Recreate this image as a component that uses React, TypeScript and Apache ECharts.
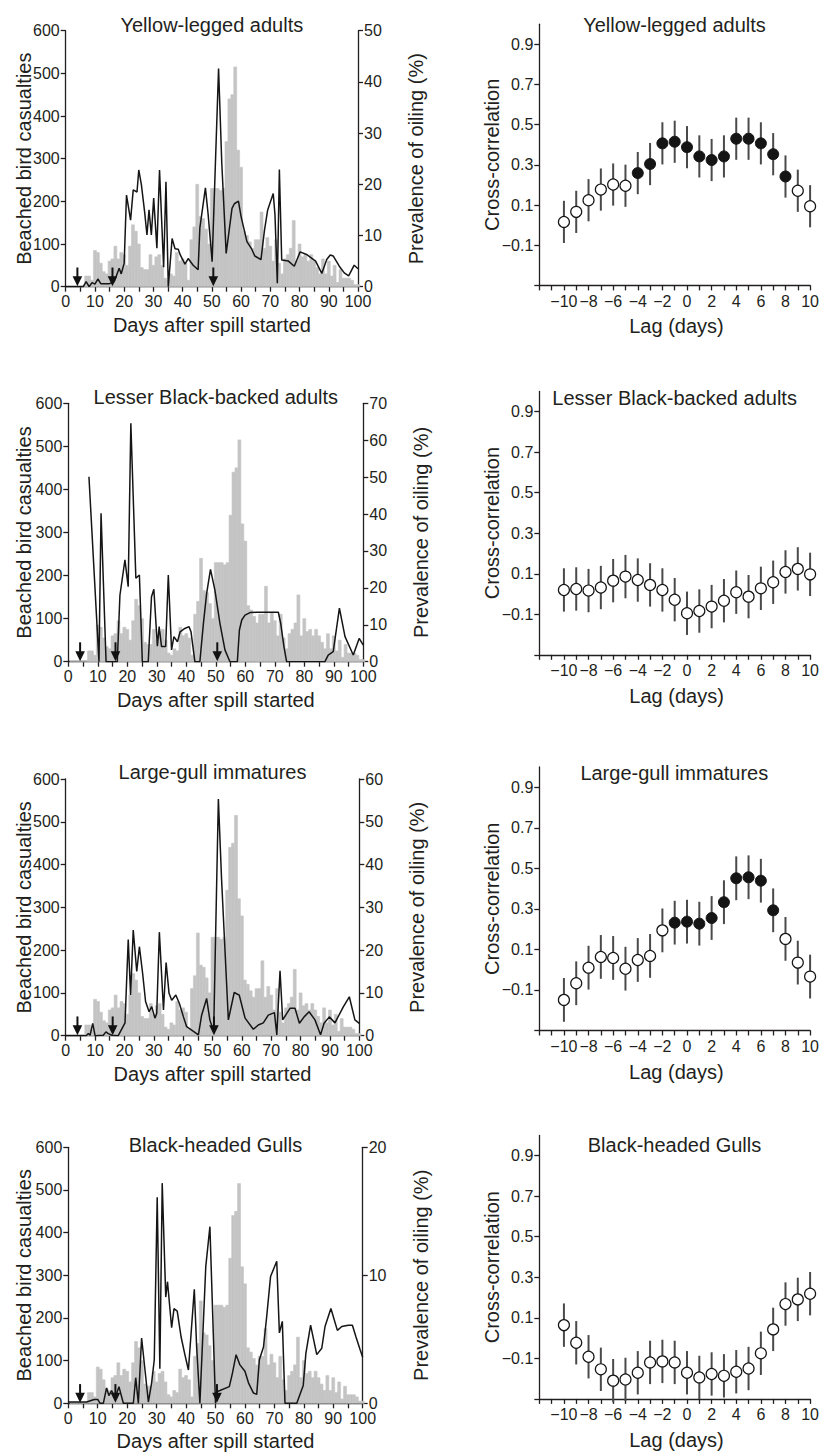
import React, { useEffect, useRef } from 'react';
import * as echarts from 'echarts';

// ---------------- DATA ----------------
const panelTitles = ['Yellow-legged adults', 'Lesser Black-backed adults', 'Large-gull immatures', 'Black-headed Gulls'];

// day numbers (categories) for the daily casualty bars
const days = Array.from({ length: 100 }, (_, i) => i + 1);

// total beached bird casualties per day (same grey bars in every left panel)
const beachedTotals = [
  0, 0, 0, 0, 0, 0, 25, 25, 15, 85,
  80, 55, 35, 30, 60, 65, 95, 65, 80, 75,
  50, 95, 145, 130, 100, 45, 40, 40, 75, 50,
  70, 75, 50, 20, 15, 30, 25, 80, 60, 65,
  55, 15, 110, 140, 240, 165, 160, 135, 100, 230,
  230, 230, 225, 230, 340, 440, 450, 515, 320, 280,
  130, 120, 105, 90, 110, 110, 175, 90, 115, 95,
  60, 110, 55, 30, 65, 75, 90, 155, 60, 100,
  70, 75, 60, 75, 60, 45, 30, 65, 30, 60,
  25, 50, 10, 40, 20, 20, 20, 15, 5, 5,
];

// prevalence of oiling (%) [day, %]
const yellowLeggedOiling = [[0,0],[6,0],[7,1],[8,0],[9,0.8],[10,0.5],[11,1.5],[12,0.6],[15,0.6],[16.6,1],[18.3,3.6],[19,2.5],[20,4.6],[20.8,17.9],[22.2,13],[23.1,18.9],[24.4,18.5],[25,22.8],[25.9,19.9],[27,14.6],[27.8,10.1],[28.5,15],[29.3,10.1],[30.1,17.3],[31.2,7.5],[32.1,22.8],[33.5,3.8],[34.3,20.5],[35.1,0],[36.4,9.4],[37.4,7.4],[38.5,7.3],[39.2,6.2],[40.8,4.4],[41.9,5.5],[43.6,4.2],[45.3,3.3],[45.9,11.5],[47.8,19.3],[48.7,14.3],[50.1,4.9],[52.3,42.6],[53.4,24.1],[54.9,6.5],[56.9,15.3],[57.7,16.2],[59.1,16.7],[60,13.7],[62,8.8],[63.5,7.5],[64.7,6],[66.8,5.3],[68,11],[69.1,15],[71,18.2],[71.6,14],[72.4,0.7],[73.1,22.9],[73.9,5.2],[76.2,5],[78.2,4],[80.2,6.8],[82.4,6.3],[84.1,5.6],[85.5,5],[87.6,2.6],[89.3,5.3],[90.5,6.2],[91.5,6],[93.6,4],[95.3,2.7],[96.8,2.1],[98.7,4.2],[100,3.5]];

const lesserBlackBackedOiling = [[7,50.1],[10.4,0],[11.1,40.2],[12.8,0],[16.6,0],[17.5,18],[19.2,27.6],[20.3,20.3],[21.2,64.6],[22.9,22.6],[24.1,23.5],[25.1,0],[27.1,0],[28.2,17.6],[29,19.6],[30.2,4.2],[30.8,9.5],[31.6,4.1],[33,4.1],[33.9,23.5],[35,3.2],[35.8,6.8],[37,5.4],[37.9,8.1],[39.5,9],[40.9,9.5],[41.6,8.1],[42.9,0],[44.6,0],[45.8,10.4],[46.9,18.5],[48.2,25],[49.7,19.4],[51.4,10.4],[53.1,3.2],[54.8,0],[57.3,0],[58,8.6],[58.8,11.3],[59.9,12.6],[61.6,13.3],[63.8,13.4],[71.2,13.4],[72,10.4],[73.1,4.1],[74,0],[87,0],[88.1,1.8],[89.8,2.7],[91.9,14.5],[93.8,6.8],[96.6,1.8],[98.6,6.3],[100,4.5]];

const largeGullOiling = [[0,0],[7,0],[7.7,0.5],[8.3,0.1],[9.2,2.9],[10,0],[12.8,0.1],[13.7,0.9],[14.5,0.5],[15.7,0.1],[17.9,0],[20.2,3],[21.3,22.5],[22.1,9.5],[23,24.7],[24.2,15],[25.1,20.8],[26.2,14.6],[27.2,8],[28.4,5.6],[29.3,6.8],[30.4,4.1],[31,5.2],[31.9,24.2],[33.3,6],[34.2,17.1],[35.2,9.9],[36.1,8.3],[37.5,9.5],[38.7,7.6],[40.1,4.4],[41.2,2.1],[42.9,1.3],[45.2,0.2],[46.3,4.8],[48,8.7],[49.1,3.7],[50.4,1],[52,55.3],[53.1,36.4],[55.4,3.7],[57.4,10.1],[59.1,9.5],[61.1,4.1],[63.9,1.5],[65.6,2.5],[67.3,3],[69,4.8],[71.1,5.4],[71.9,0.2],[73,15.2],[73.9,3.7],[75.3,5.2],[76.4,6.4],[78.1,6.4],[79.6,2.9],[81.2,4.4],[82.9,5.6],[84.9,3.7],[86.8,0.2],[88,2.9],[89.8,4.4],[91.7,3],[94.6,6.8],[96.6,9.1],[98.5,3.7],[100,2.9]];

const blackHeadedOiling = [[0,0.1],[6.2,0.1],[8.8,0.3],[10,0.3],[10.8,0],[11.9,0],[13,1.2],[13.8,0.6],[14.7,1],[15.9,0.4],[17.2,1.3],[18.7,0],[22.1,0],[22.9,2],[23.8,0],[24.9,5.1],[27.2,0.1],[28.3,1.6],[29.2,3.4],[30.2,16.1],[31.1,2.7],[31.9,17.2],[33.1,8.3],[33.7,9.5],[35.1,5.9],[35.9,7.4],[37,7.2],[38.3,5.2],[39.6,3.8],[40.8,2.6],[42.8,8.9],[43.6,4.4],[44.7,0],[46.7,10.7],[48.1,13.8],[50,0],[50.4,0.9],[51.5,1],[54.7,1.3],[55.7,2.3],[57,3.8],[58.3,3],[60,2.5],[61.2,1.6],[62.9,0.8],[64,0.7],[64.9,3.4],[66.3,4.4],[67.4,6.8],[68.7,9.9],[70.8,11.1],[71.7,5.5],[72.7,6.4],[73.6,0],[77.6,0],[79.8,1.4],[80.7,3.9],[82.3,6.1],[84.4,3.8],[86.1,4.3],[87.2,6],[89.2,7.4],[91.4,5.7],[92.9,6],[95.1,6.1],[96.5,6.1],[97.7,5.2],[99.1,4.2],[100,3.6]];

const oilingMax = [50, 70, 60, 20];

// arrows marking events (day) and arrow top (casualty units)
const arrowDays = [4, 16, 50.5];
const arrowTop = 45;

// cross-correlation panels
const lags = [-10, -9, -8, -7, -6, -5, -4, -3, -2, -1, 0, 1, 2, 3, 4, 5, 6, 7, 8, 9, 10];
const ccYellow = [0.016, 0.066, 0.124, 0.177, 0.202, 0.196, 0.259, 0.304, 0.407, 0.415, 0.388, 0.342, 0.324, 0.342, 0.430, 0.430, 0.407, 0.353, 0.242, 0.171, 0.094];
const sigYellow = [0, 0, 0, 0, 0, 0, 1, 1, 1, 1, 1, 1, 1, 1, 1, 1, 1, 1, 1, 0, 0];
const ccLesser = [0.020, 0.025, 0.017, 0.032, 0.066, 0.086, 0.069, 0.045, 0.020, -0.028, -0.095, -0.084, -0.062, -0.033, 0.009, -0.013, 0.028, 0.058, 0.109, 0.124, 0.097];
const sigLesser = [0, 0, 0, 0, 0, 0, 0, 0, 0, 0, 0, 0, 0, 0, 0, 0, 0, 0, 0, 0, 0];
const ccLarge = [-0.149, -0.067, 0.010, 0.063, 0.058, 0.005, 0.048, 0.068, 0.194, 0.232, 0.237, 0.227, 0.255, 0.333, 0.451, 0.456, 0.439, 0.293, 0.152, 0.035, -0.034];
const sigLarge = [0, 0, 0, 0, 0, 0, 0, 0, 0, 1, 1, 1, 1, 1, 1, 1, 1, 1, 0, 0, 0];
const ccBlack = [0.064, -0.023, -0.092, -0.154, -0.210, -0.204, -0.171, -0.120, -0.115, -0.120, -0.171, -0.194, -0.177, -0.186, -0.166, -0.150, -0.075, 0.043, 0.168, 0.191, 0.219];
const sigBlack = [0, 0, 0, 0, 0, 0, 0, 0, 0, 0, 0, 0, 0, 0, 0, 0, 0, 0, 0, 0, 0];
const ccErrHalf = [0.105, 0.107, 0.108, 0.107];

const ccYLabels = [-0.1, 0.1, 0.3, 0.5, 0.7, 0.9];

// ---------------- LAYOUT ----------------
const leftLayout = [
  { left: 65.7, top: 30.7, width: 292.3, height: 256 },
  { left: 68.3, top: 403.3, width: 295, height: 258.4 },
  { left: 65.7, top: 779, width: 293.6, height: 256.7 },
  { left: 68.3, top: 1147.3, width: 294.4, height: 256 },
];
const rightLayout = [
  { left: 539.3, top: 24.2, width: 272.4, height: 261.2 },
  { left: 539.3, top: 391.4, width: 272.6, height: 263.4 },
  { left: 539.3, top: 767, width: 272, height: 263.5 },
  { left: 539.3, top: 1135.4, width: 272.4, height: 263.5 },
];
const leftTitleY = [25, 396.7, 771.7, 1145];
const rightTitleY = [25, 398.3, 773.3, 1145];

const FONT = '"Liberation Sans", Arial, Helvetica, sans-serif';
const INK = '#231f20';
const BAR_GREY = '#c4c4c4';
const TICK_FS = 16;
const NAME_FS = 20;

const minus = (s: string) => s.replace('-', '\u2212');

function buildOption() {
  const oilingSets = [yellowLeggedOiling, lesserBlackBackedOiling, largeGullOiling, blackHeadedOiling];
  const ccSets = [ccYellow, ccLesser, ccLarge, ccBlack];
  const sigSets = [sigYellow, sigLesser, sigLarge, sigBlack];

  const grid: any[] = [];
  const xAxis: any[] = [];
  const yAxis: any[] = [];
  const series: any[] = [];
  const graphic: any[] = [];

  const axisLine = { show: true, onZero: false, lineStyle: { color: INK, width: 1.3 } };
  const axisTick = { show: true, inside: false, length: 5, lineStyle: { color: INK, width: 1.3 } };
  const axisLabelBase = { color: INK, fontSize: TICK_FS, fontFamily: FONT };
  const textStyle = (text: string) => ({ text, fill: INK, fontSize: NAME_FS, fontFamily: FONT, fontWeight: 'normal', align: 'center', verticalAlign: 'middle' });

  leftLayout.forEach((g) => {
    grid.push({ left: g.left, top: g.top, width: g.width, height: g.height, containLabel: false });
  });
  rightLayout.forEach((g) => {
    grid.push({ left: g.left, top: g.top, width: g.width, height: g.height, containLabel: false });
  });

  for (let i = 0; i < 4; i++) {
    xAxis.push({
      type: 'value', gridIndex: i, min: 0, max: 100, interval: 5,
      axisLine, axisTick, splitLine: { show: false },
      axisLabel: { ...axisLabelBase, margin: 7, formatter: (v: number) => (v % 10 === 0 ? String(v) : '') },
    });
    yAxis.push({
      type: 'value', gridIndex: i, min: 0, max: 600, interval: 100, position: 'left',
      axisLine, axisTick, splitLine: { show: false },
      axisLabel: { ...axisLabelBase, margin: 6 },
    });
    yAxis.push({
      type: 'value', gridIndex: i, min: 0, max: oilingMax[i], interval: 10, position: 'right',
      axisLine, axisTick, splitLine: { show: false },
      axisLabel: { ...axisLabelBase, margin: 6 },
    });

    // daily casualty bars, one day wide
    series.push({
      type: 'custom', xAxisIndex: i, yAxisIndex: 2 * i, silent: true, z: 1,
      data: days.map((d, k) => [d, beachedTotals[k]]),
      renderItem: (params: any, api: any) => {
        const d = api.value(0);
        const p0 = api.coord([d - 0.5, api.value(1)]);
        const p1 = api.coord([d + 0.5, 0]);
        return {
          type: 'rect',
          shape: { x: p0[0], y: p0[1], width: p1[0] - p0[0], height: p1[1] - p0[1] },
          style: { fill: BAR_GREY, stroke: BAR_GREY, lineWidth: 0.6 },
        };
      },
    });
    series.push({
      type: 'line', xAxisIndex: i, yAxisIndex: 2 * i + 1, silent: true,
      data: oilingSets[i], symbol: 'none', showSymbol: false,
      lineStyle: { color: '#151515', width: 1.5 }, z: 3,
    });
    series.push({
      type: 'custom', xAxisIndex: i, yAxisIndex: 2 * i, silent: true, z: 4,
      data: arrowDays.map((d) => [d, arrowTop]),
      renderItem: (params: any, api: any) => {
        const top = api.coord([api.value(0), api.value(1)]);
        const base = api.coord([api.value(0), 0]);
        return {
          type: 'group',
          children: [
            { type: 'line', shape: { x1: top[0], y1: top[1], x2: base[0], y2: base[1] - 8 }, style: { stroke: '#111', lineWidth: 2 } },
            { type: 'polygon', shape: { points: [[base[0] - 4.8, base[1] - 10.5], [base[0] + 4.8, base[1] - 10.5], [base[0], base[1] - 0.5]] }, style: { fill: '#111' } },
          ],
        };
      },
    });

    const g = leftLayout[i];
    graphic.push({ type: 'text', x: g.left + g.width / 2, y: leftTitleY[i], silent: true, style: textStyle(panelTitles[i]) });
    graphic.push({ type: 'text', x: 24, y: g.top + g.height / 2, rotation: Math.PI / 2, silent: true, style: textStyle('Beached bird casualties') });
    graphic.push({ type: 'text', x: g.left + g.width + 58, y: g.top + g.height / 2, rotation: Math.PI / 2, silent: true, style: textStyle('Prevalence of oiling (%)') });
    graphic.push({ type: 'text', x: g.left + g.width / 2, y: g.top + g.height + 38, silent: true, style: textStyle('Days after spill started') });
  }

  for (let i = 0; i < 4; i++) {
    const gi = 4 + i;
    xAxis.push({
      type: 'value', gridIndex: gi, min: -12, max: 10, interval: 1,
      axisLine, axisTick, splitLine: { show: false },
      axisLabel: {
        ...axisLabelBase, margin: 8,
        formatter: (v: number) => (v % 2 === 0 && v >= -10 ? minus(String(v)) : ''),
      },
    });
    yAxis.push({
      type: 'value', gridIndex: gi, min: -0.3, max: 1.0, position: 'left',
      axisLine, splitLine: { show: false },
      axisTick: { ...axisTick, customValues: [-0.3, ...ccYLabels] },
      axisLabel: {
        ...axisLabelBase, margin: 6, customValues: ccYLabels,
        formatter: (v: number) => minus(v.toFixed(1)),
      },
    });
    const cc = ccSets[i];
    const sig = sigSets[i];
    const e = ccErrHalf[i];
    series.push({
      type: 'custom', xAxisIndex: gi, yAxisIndex: 8 + i, silent: true, z: 2,
      data: lags.map((l, k) => [l, cc[k] - e, cc[k] + e]),
      renderItem: (params: any, api: any) => {
        const a = api.coord([api.value(0), api.value(1)]);
        const b = api.coord([api.value(0), api.value(2)]);
        return { type: 'line', shape: { x1: a[0], y1: a[1], x2: b[0], y2: b[1] }, style: { stroke: '#4a4a4a', lineWidth: 2 } };
      },
    });
    series.push({
      type: 'scatter', xAxisIndex: gi, yAxisIndex: 8 + i, silent: true, z: 3,
      data: lags.map((l, k) => [l, cc[k]]).filter((_, k) => !sig[k]),
      symbol: 'circle', symbolSize: 11,
      itemStyle: { color: '#ffffff', borderColor: '#151515', borderWidth: 1.2, opacity: 1 },
    });
    series.push({
      type: 'scatter', xAxisIndex: gi, yAxisIndex: 8 + i, silent: true, z: 3,
      data: lags.map((l, k) => [l, cc[k]]).filter((_, k) => !!sig[k]),
      symbol: 'circle', symbolSize: 11,
      itemStyle: { color: '#151515', borderColor: '#151515', borderWidth: 1, opacity: 1 },
    });

    const g = rightLayout[i];
    graphic.push({ type: 'text', x: g.left + g.width / 2 - 1, y: rightTitleY[i], silent: true, style: textStyle(panelTitles[i]) });
    graphic.push({ type: 'text', x: 492, y: g.top + g.height / 2, rotation: Math.PI / 2, silent: true, style: textStyle('Cross-correlation') });
    graphic.push({ type: 'text', x: g.left + g.width / 2 + 1, y: g.top + g.height + 41, silent: true, style: textStyle('Lag (days)') });
  }

  return {
    animation: false,
    backgroundColor: '#ffffff',
    textStyle: { fontFamily: FONT },
    grid, xAxis, yAxis, series, graphic,
  };
}

export default function App() {
  const ref = useRef<HTMLDivElement>(null);
  useEffect(() => {
    if (!ref.current) return;
    const chart = echarts.init(ref.current, undefined, { renderer: 'svg' });
    chart.setOption(buildOption() as any);
    return () => chart.dispose();
  }, []);
  return <div ref={ref} style={{ position: 'absolute', left: 0, top: 0, width: 822, height: 1453, background: '#fff' }} />;
}
